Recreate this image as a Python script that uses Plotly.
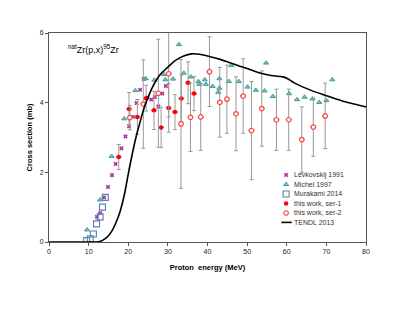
import plotly.graph_objects as go

# Levkovskij 1991
lev_e = [12.1, 12.9, 13.9, 14.9, 15.9, 16.8, 18.3, 19.3, 20.2, 21.2, 22.1, 23.0, 23.9, 24.8, 25.8, 26.7, 27.6, 28.6, 29.5]
lev_s = [0.72, 0.83, 1.28, 1.58, 1.92, 2.24, 2.69, 3.03, 3.32, 3.59, 3.99, 4.37, 4.68, 4.15, 4.09, 4.16, 3.89, 4.26, 4.48]

# Michel 1997
mic_e = [9.6, 12.9, 15.8, 19.0, 21.8, 24.4, 26.6, 29.0, 29.4, 31.3, 32.8, 34.0, 35.8, 37.7, 37.9, 39.3, 39.6, 41.3,
         42.7, 43.0, 43.0, 45.4, 46.0, 47.9, 50.1, 52.2, 54.4, 54.8, 56.5, 60.6, 62.6, 64.5, 66.5, 68.2, 70.0, 71.5]
mic_s = [0.35, 1.21, 2.46, 3.54, 4.35, 4.69, 4.65, 4.81, 4.66, 4.68, 5.67, 4.85, 4.74, 4.61, 4.53, 4.66, 4.53, 4.47,
         4.30, 4.69, 4.42, 4.61, 5.07, 4.61, 4.45, 4.36, 4.34, 5.14, 4.18, 4.26, 4.09, 4.16, 4.11, 4.01, 4.06, 4.66]

# Murakami 2014
mur_e = [9.5, 10.4, 11.2, 12.0, 12.9, 13.5, 14.2]
mur_s = [0.04, 0.09, 0.23, 0.52, 0.72, 1.0, 1.28]

# this work, ser-1
s1_e = [17.6, 20.2, 22.3, 24.5, 26.5, 28.3, 30.2, 31.8, 33.4, 35.1, 36.6]
s1_s = [2.44, 3.82, 3.59, 4.13, 3.78, 3.29, 3.85, 3.73, 4.12, 4.57, 4.26]
s1_err = [0.36, 0.47, 0.5, 0.37, 0.55, 0.58, 0.7, 0.5, 0.67, 0.6, 0.49]

# this work, ser-2
s2_e = [20.4, 23.8, 27.6, 30.2, 33.3, 35.7, 38.3, 40.5, 43.1, 44.9, 47.2, 49.0, 51.1, 53.7, 57.4, 60.5, 63.8, 66.7, 69.7]
s2_s = [3.57, 3.96, 4.27, 4.83, 3.39, 3.58, 3.59, 4.89, 4.01, 4.10, 3.68, 4.19, 3.20, 3.83, 3.51, 3.51, 2.94, 3.30, 3.62]
s2_err = [0.35, 1.27, 1.55, 1.24, 1.85, 0.98, 0.96, 1.0, 1.0, 0.98, 1.06, 1.07, 1.41, 1.08, 0.88, 0.88, 0.94, 0.84, 0.94]

# TENDL 2013
ten_e = [0, 11, 12, 13, 14, 15, 16, 17, 18, 19, 20, 21, 22, 23, 24, 25, 26, 27, 28, 30, 32, 34, 36, 38, 40,
         43, 46, 50, 53, 56, 59, 60, 62, 66, 70, 74, 77, 80]
ten_s = [0, 0, 0.0, 0.02, 0.08, 0.18, 0.34, 0.58, 0.9, 1.35, 1.95, 2.52, 3.03, 3.45, 3.85, 4.15, 4.42, 4.63, 4.8, 5.02,
         5.22, 5.34, 5.4, 5.39, 5.34, 5.25, 5.13, 4.98, 4.86, 4.78, 4.74, 4.7, 4.56, 4.36, 4.2, 4.05, 3.96, 3.88]

legend_names = ['Levkovskij 1991', 'Michel 1997', 'Murakami 2014', 'this work, ser-1', 'this work, ser-2', 'TENDL 2013']

lev_marker = dict(symbol='x', size=4, color='#b0309a', line=dict(width=0))
mic_marker = dict(symbol='triangle-up', size=4.5, color='#99cc33', line=dict(color='#3399cc', width=1))
mur_marker = dict(symbol='square-open', size=6, color='#5a7fb5', line=dict(width=1.1))
s1_marker = dict(symbol='circle', size=4.5, color='#ff0000')
s2_marker = dict(symbol='circle', size=4.5, color='white', line=dict(color='#ff4444', width=1.2))
err_style = dict(color='#999999', thickness=1)

fig = go.Figure()

fig.add_trace(go.Scatter(x=lev_e, y=lev_s, mode='markers', marker=lev_marker))
fig.add_trace(go.Scatter(x=mic_e, y=mic_s, mode='markers', marker=mic_marker))
fig.add_trace(go.Scatter(x=mur_e, y=mur_s, mode='markers', marker=mur_marker))
fig.add_trace(go.Scatter(x=s1_e, y=s1_s, mode='markers', marker=s1_marker,
                         error_y=dict(type='data', array=s1_err, width=2, **err_style),
                         error_x=dict(type='constant', value=0.6, width=1, **err_style)))
fig.add_trace(go.Scatter(x=s2_e, y=s2_s, mode='markers', marker=s2_marker,
                         error_y=dict(type='data', array=s2_err, width=2, **err_style),
                         error_x=dict(type='constant', value=0.6, width=1, **err_style)))
fig.add_trace(go.Scatter(x=ten_e, y=ten_s, mode='lines',
                         line=dict(color='black', width=1.6, shape='spline')))

# hand-made legend on an overlay axis (plotly's own legend rows are too tall)
leg_x = 0.748
leg_y = [0.3206, 0.2756, 0.2297, 0.1847, 0.1388, 0.0938]
for i, mk in enumerate([lev_marker, mic_marker, mur_marker, s1_marker, s2_marker]):
    fig.add_trace(go.Scatter(x=[leg_x], y=[leg_y[i]], mode='markers', marker=mk,
                             xaxis='x2', yaxis='y2', hoverinfo='skip'))
fig.add_trace(go.Scatter(x=[0.733, 0.766], y=[leg_y[5], leg_y[5]], mode='lines',
                         line=dict(color='black', width=1.6), xaxis='x2', yaxis='y2', hoverinfo='skip'))
for i, name in enumerate(legend_names):
    fig.add_annotation(x=0.768, y=leg_y[i], xref='x2', yref='y2', xanchor='left', yanchor='middle',
                       text=name, showarrow=False, font=dict(size=7, color='#333333'))

fig.add_annotation(x=0.055, y=0.925, xref='paper', yref='paper', xanchor='left', yanchor='middle',
                   text='<sup>nat</sup>Zr(p,x)<sup>95</sup>Zr', showarrow=False,
                   font=dict(size=9, color='black', family='Arial'))

# page body adds an 8px offset, so the figure is drawn 8px smaller and shifted
fig.update_layout(
    width=407, height=313,
    margin=dict(l=41, r=49, t=25, b=79),
    paper_bgcolor='white', plot_bgcolor='white',
    font=dict(family='Arial', size=7, color='#222222'),
    showlegend=False,
    xaxis=dict(range=[0, 80], dtick=10, showgrid=False, zeroline=False,
               showline=True, linecolor='#555555', linewidth=1, mirror=True,
               ticks='outside', ticklen=3, tickcolor='#555555',
               title=dict(text='<b>Proton  energy (MeV)</b>', font=dict(size=7.5, color='black'), standoff=10)),
    yaxis=dict(range=[0, 6], dtick=2, showgrid=False, zeroline=False,
               showline=True, linecolor='#555555', linewidth=1, mirror=True,
               ticks='outside', ticklen=3, tickcolor='#555555',
               title=dict(text='<b>Cross section (mb)</b>', font=dict(size=7.5, color='black'), standoff=6)),
    xaxis2=dict(range=[0, 1], overlaying='x', visible=False, domain=[0, 1]),
    yaxis2=dict(range=[0, 1], overlaying='y', visible=False),
)

fig.write_html("out.html")
